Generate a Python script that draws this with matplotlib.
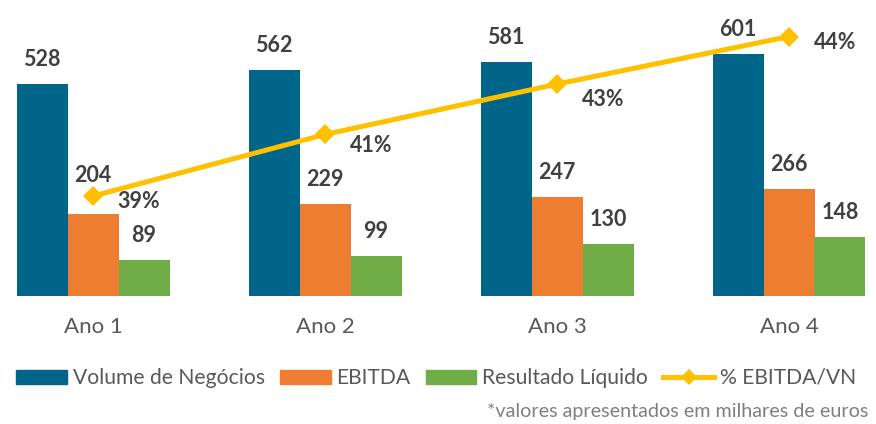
import numpy as np
import matplotlib.pyplot as plt
from matplotlib.patches import Patch
from matplotlib.lines import Line2D

plt.rcParams['font.family'] = ['Lato', 'DejaVu Sans']

anos = ['Ano 1', 'Ano 2', 'Ano 3', 'Ano 4']
volume = [528, 562, 581, 601]
ebitda = [204, 229, 247, 266]
resultado = [89, 99, 130, 148]
pct_ebitda = [38.6, 40.8, 42.6, 44.3]
pct_labels = ['39%', '41%', '43%', '44%']

c_blue = '#01658A'
c_orange = '#ED7D31'
c_green = '#70AD47'
c_gold = '#FFC000'
c_lbl = '#404040'
c_txt = '#595959'

W, H = 876, 424
fig = plt.figure(figsize=(W / 100, H / 100), dpi=100)
# axes from baseline (y=296px) to y=20px, full width
ax = fig.add_axes([0, (H - 296) / H, 1, 276 / H])
ax.set_xlim(-93 / 232, (W - 93) / 232)
ax.set_ylim(0, 276 / 0.402)

x = np.arange(len(anos))
w = 51 / 232
series = [(volume, -w, c_blue), (ebitda, 0, c_orange), (resultado, w, c_green)]
for vals, off, col in series:
    ax.bar(x + off, vals, width=w, color=col, edgecolor='none')

# value labels (pt offset above bar top); first EBITDA label sits higher
for k, (vals, off, col) in enumerate(series):
    for i, v in enumerate(vals):
        dy = 17.6
        if k == 1 and i == 0:
            dy = 27.7
        ax.annotate(str(v), (x[i] + off, v), xytext=(0, dy), textcoords='offset points',
                    ha='center', va='center', fontsize=15.5, fontweight='bold', color=c_lbl)

ax2 = ax.twinx()
ax2.set_ylim(35.03, 44.89)
ax2.plot(x, pct_ebitda, color=c_gold, lw=3.6, marker='D', markersize=10,
         markeredgewidth=0, solid_capstyle='butt')
ax2.axis('off')

ax.set_xticks(x, anos)
ax.tick_params(axis='x', length=0, pad=15, labelsize=16, labelcolor=c_txt)
ax.tick_params(axis='y', left=False, right=False, labelleft=False, labelright=False)
for s in ax.spines.values():
    s.set_visible(False)

pct_dy = [5, 11, 15, 6]
for i, v in enumerate(pct_ebitda):
    ax2.annotate(pct_labels[i], (x[i], v), xytext=(46 * 0.72, -pct_dy[i] * 0.72),
                 textcoords='offset points', ha='center', va='center',
                 fontsize=15.5, fontweight='bold', color=c_lbl)

handles = [Patch(color=c_blue), Patch(color=c_orange), Patch(color=c_green),
           Line2D([], [], color=c_gold, lw=3.6, marker='D', markersize=8, markeredgewidth=0)]
names = ['Volume de Negócios', 'EBITDA', 'Resultado Líquido', '% EBITDA/VN']
fig.legend(handles, names, loc='center left', bbox_to_anchor=(16 / W, 1 - 378 / H),
           ncol=4, frameon=False, fontsize=15.2, labelcolor=c_txt,
           handlelength=2.4, handleheight=0.65, handletextpad=0.28,
           columnspacing=0.72, borderpad=0, borderaxespad=0)

fig.text(868 / W, 1 - 412 / H, '*valores apresentados em milhares de euros',
         ha='right', va='center', fontsize=14.2, color='#7F7F7F')

fig.savefig('out.png', dpi=100)
